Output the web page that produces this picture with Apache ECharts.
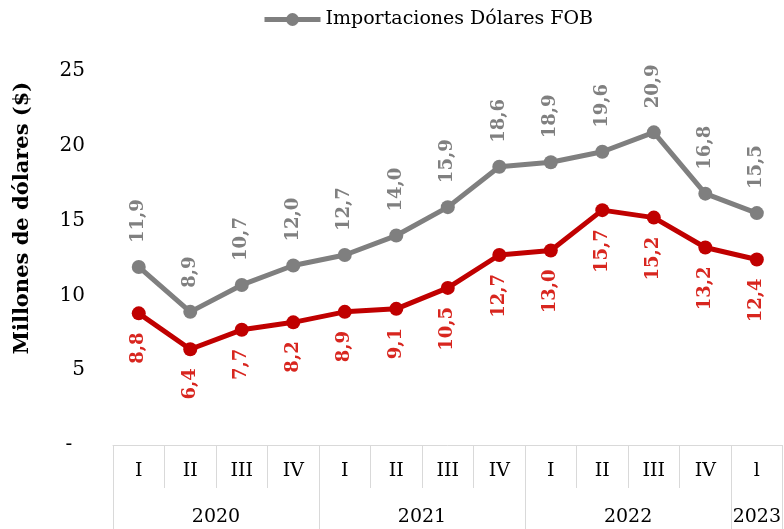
<!DOCTYPE html>
<html>
<head>
<meta charset="utf-8">
<script src="https://cdn.jsdelivr.net/npm/echarts@6/dist/echarts.min.js"></script>
<style>
html, body { margin: 0; padding: 0; background: #fff; }
#chart { width: 784px; height: 529px; }
</style>
</head>
<body>
<div id="chart"></div>
<script>
// trimestres y años
var quarters = ['I', 'II', 'III', 'IV', 'I', 'II', 'III', 'IV', 'I', 'II', 'III', 'IV', 'l'];
var years = ['2020', '2021', '2022', '2023'];
var yearCounts = [4, 4, 4, 1];
// valores (millones de dólares)
var fobValues = [11.9, 8.9, 10.7, 12.0, 12.7, 14.0, 15.9, 18.6, 18.9, 19.6, 20.9, 16.8, 15.5];
var redValues = [8.8, 6.4, 7.7, 8.2, 8.9, 9.1, 10.5, 12.7, 13.0, 15.7, 15.2, 13.2, 12.4];
var yTicks = [0, 5, 10, 15, 20, 25];

var FONT = 'DejaVu Serif';

// bordes y centros de cada año sobre el eje de trimestres
var yearEdges = [0];
var yearCenters = [];
var acc = 0;
yearCounts.forEach(function (n) {
    yearCenters.push(acc + n / 2);
    acc += n;
    yearEdges.push(acc);
});

function fmt(v) {
    return v.toFixed(1).replace('.', ',');
}

var chart = echarts.init(document.getElementById('chart'));
chart.setOption({
    animation: false,
    grid: { left: 113, right: -5, top: 71, bottom: 84 },
    legend: {
        data: ['Importaciones Dólares FOB'],
        left: 262,
        top: 10,
        padding: 0,
        itemWidth: 56,
        itemHeight: 16,
        itemGap: 6,
        lineStyle: { width: 5 },
        textStyle: { fontFamily: FONT, fontSize: 19, color: '#000' }
    },
    xAxis: [
        {
            type: 'category',
            data: quarters,
            boundaryGap: true,
            axisLine: { lineStyle: { color: '#d9d9d9', width: 1 } },
            axisTick: { show: true, interval: 0, length: 43, lineStyle: { color: '#d9d9d9' } },
            axisLabel: { interval: 0, margin: 17, fontFamily: FONT, fontSize: 19, color: '#000' },
            splitLine: { show: false }
        },
        {
            type: 'value',
            min: 0,
            max: quarters.length,
            position: 'bottom',
            offset: 43,
            axisLine: { show: false },
            axisTick: { show: true, customValues: yearEdges, length: 50, lineStyle: { color: '#d9d9d9' } },
            axisLabel: {
                customValues: yearCenters,
                margin: 20,
                fontFamily: FONT,
                fontSize: 19,
                color: '#000',
                formatter: function (v) {
                    var i = yearCenters.indexOf(v);
                    return i >= 0 ? years[i] : '';
                }
            },
            splitLine: { show: false }
        }
    ],
    yAxis: {
        type: 'value',
        min: yTicks[0],
        max: yTicks[yTicks.length - 1],
        interval: 5,
        name: 'Millones de dólares ($)',
        nameLocation: 'middle',
        nameGap: 80,
        nameTextStyle: { fontFamily: FONT, fontSize: 21, fontWeight: 'bold', color: '#000', padding: [0, 0, 0, 80] },
        axisLine: { show: false },
        axisTick: { show: false },
        splitLine: { show: false },
        axisLabel: {
            margin: 28,
            fontFamily: FONT,
            fontSize: 20,
            color: '#000',
            formatter: function (v) { return v === 0 ? '-  ' : v; }
        }
    },
    series: [
        {
            name: 'Importaciones Dólares FOB',
            type: 'line',
            data: fobValues,
            symbol: 'circle',
            symbolSize: 14,
            itemStyle: { color: '#7f7f7f' },
            lineStyle: { color: '#7f7f7f', width: 5 },
            label: {
                show: true,
                position: 'top',
                distance: 17,
                rotate: 90,
                align: 'left',
                verticalAlign: 'middle',
                fontFamily: FONT,
                fontSize: 18,
                fontWeight: 'bold',
                color: '#808080',
                formatter: function (p) { return fmt(p.value); }
            },
            z: 3
        },
        {
            name: 'Importaciones',
            type: 'line',
            data: redValues,
            symbol: 'circle',
            symbolSize: 14,
            itemStyle: { color: '#c00000' },
            lineStyle: { color: '#c00000', width: 5 },
            label: {
                show: true,
                position: 'bottom',
                distance: 12,
                rotate: 90,
                align: 'right',
                verticalAlign: 'middle',
                fontFamily: FONT,
                fontSize: 18,
                fontWeight: 'bold',
                color: '#d8261f',
                formatter: function (p) { return fmt(p.value); }
            },
            z: 4
        }
    ]
});
</script>
</body>
</html>
